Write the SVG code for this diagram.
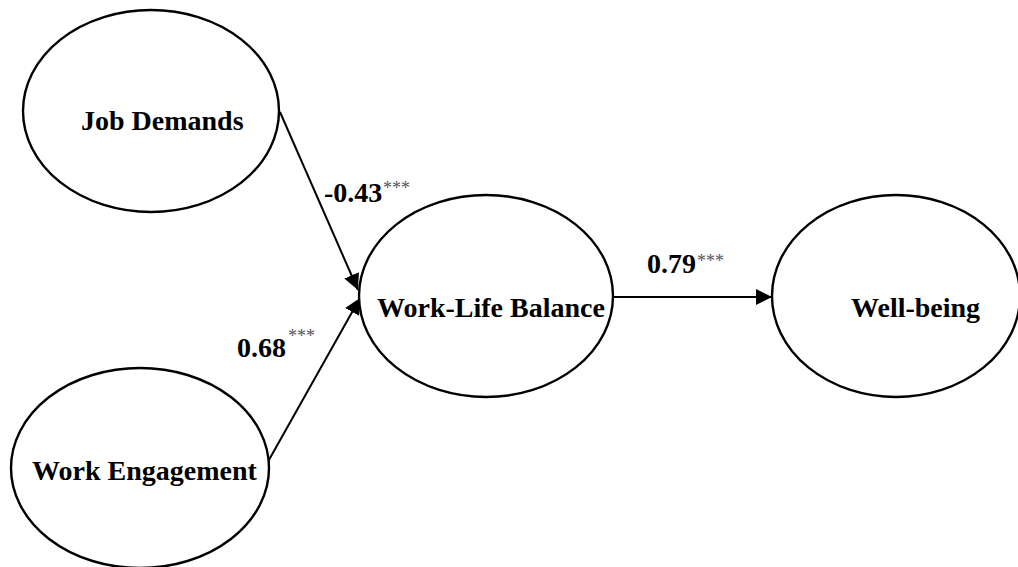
<svg xmlns="http://www.w3.org/2000/svg" width="1018" height="567" viewBox="0 0 1018 567">
<style>
.node{fill:#fff;stroke:#000;stroke-width:2.4}
.lbl{font-family:"Liberation Serif","Times New Roman",serif;font-weight:bold;font-size:28px;fill:#000}
.coef{font-family:"Liberation Serif","Times New Roman",serif;font-weight:bold;font-size:28px;fill:#000}
.sig{font-family:"Liberation Serif","Times New Roman",serif;font-size:18px;fill:#555}
.edge{stroke:#000;stroke-width:2;fill:none}
</style>
<defs>
<marker id="ah" markerUnits="userSpaceOnUse" markerWidth="16" markerHeight="16" viewBox="0 0 14 14" refX="14" refY="7" orient="auto">
<path d="M0,0 L14,7 L0,14 Z" fill="#000"/>
</marker>
</defs>
<rect width="1018" height="567" fill="#fff"/>
<g id="connectors">
<line class="edge" x1="280" y1="112" x2="358" y2="290" marker-end="url(#ah)"/>
<line class="edge" x1="265" y1="467" x2="360" y2="298" marker-end="url(#ah)"/>
<line class="edge" x1="613" y1="297" x2="772" y2="297" marker-end="url(#ah)"/>
</g>
<g id="job-demands">
<ellipse class="node" cx="151" cy="111" rx="128" ry="101"/>
<text class="lbl" x="81" y="130">Job Demands</text>
</g>
<g id="work-engagement">
<ellipse class="node" cx="140" cy="468" rx="129" ry="100"/>
<text class="lbl" x="32" y="480">Work Engagement</text>
</g>
<g id="work-life-balance">
<ellipse class="node" cx="486" cy="296" rx="127" ry="101"/>
<text class="lbl" x="377" y="317">Work-Life Balance</text>
</g>
<g id="well-being">
<ellipse class="node" cx="896" cy="296" rx="124" ry="101"/>
<text class="lbl" x="851" y="317">Well-being</text>
</g>
<g id="labels">
<text class="coef" x="324" y="202">-0.43</text>
<text class="sig" x="383" y="194">***</text>
<text class="coef" x="237" y="357">0.68</text>
<text class="sig" x="288" y="342">***</text>
<text class="coef" x="647" y="273">0.79</text>
<text class="sig" x="697" y="267">***</text>
</g>
</svg>
